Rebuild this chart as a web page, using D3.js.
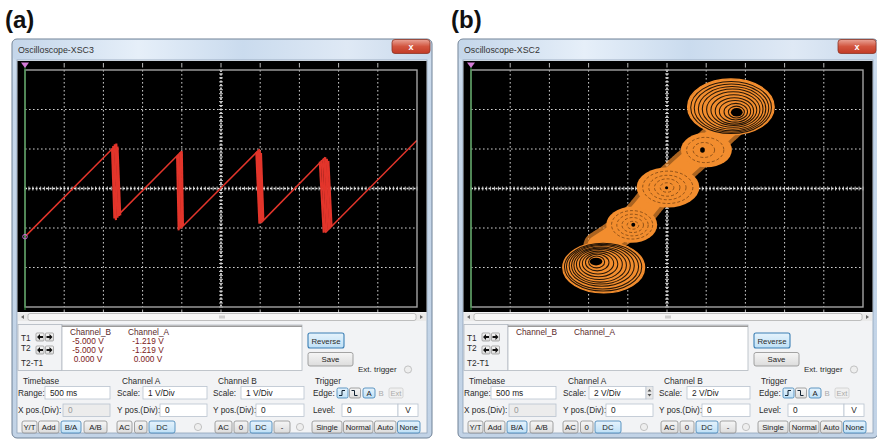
<!DOCTYPE html>
<html><head><meta charset="utf-8">
<script src="https://cdn.jsdelivr.net/npm/d3@7"></script>
<style>
body{margin:0;background:#fff}
svg{display:block}
text{font-family:"Liberation Sans",Arial,sans-serif}
</style>
</head><body>
<svg id="fig" width="877" height="443"></svg>
<script>
// ---------- figure content ----------
const panelLabels = ["(a)", "(b)"];
const windowTitles = ["Oscilloscope-XSC3", "Oscilloscope-XSC2"];
const panelOffsets = [0, 446];
const voltsPerDiv = [1, 2];               // Channel scale of each scope
const divisionsX = [-5, -4, -3, -2, -1, 0, 1, 2, 3, 4, 5];
const divisionsY = [-3, -2, -1, 0, 1, 2, 3];

// readout
const readoutHeaders = ["Channel_B", "Channel_A"];
const readoutRows = [
  [["-5.000 V", "-1.219 V"], ["-5.000 V", "-1.219 V"], ["0.000 V", "0.000 V"]],
  []
];
const cursorLabels = ["T1", "T2", "T2-T1"];
const timebaseRange = ["500 ms", "500 ms"];
const channelAScale = ["1 V/Div", "2 V/Div"];
const channelBScale = ["1 V/Div", "2 V/Div"];
const xPosDiv = ["0", "0"];
const yPosA = ["0", "0"];
const yPosB = ["0", "0"];
const triggerLevel = ["0", "0"];
const displayModes = ["Y/T", "Add", "B/A", "A/B"];
const couplingA = ["AC", "0", "DC"];
const couplingB = ["AC", "0", "DC", "-"];
const triggerModes = ["Single", "Normal", "Auto", "None"];

// (a) sawtooth trace, volts: [x0, y0, x1, y1]
const rampsA = [
  [-5.00, -1.219, -2.67, 1.11],
  [-2.70, -0.75, -1.00, 0.95],
  [-1.02, -1.00, 0.99, 1.00],
  [1.02, -0.87, 2.66, 0.79],
  [2.66, -1.12, 5.00, 1.22]
];
// (a) flyback traces, volts: [xTop, yTop, xBottom, yBottom]
const flybackA = [
  [-2.78, 1.02, -2.72, -0.76], [-2.75, 1.08, -2.68, -0.80], [-2.71, 1.12, -2.64, -0.74],
  [-2.67, 1.14, -2.60, -0.70], [-2.64, 1.06, -2.57, -0.68],
  [-1.12, 0.83, -1.08, -1.06], [-1.08, 0.87, -1.04, -1.02], [-1.04, 0.91, -1.00, -0.98],
  [-1.00, 0.94, -0.97, -0.95],
  [0.90, 0.92, 0.98, -0.89], [0.93, 0.95, 1.01, -0.86], [0.96, 0.98, 1.04, -0.83],
  [0.99, 0.96, 1.07, -0.80], [1.02, 0.90, 1.08, -0.78],
  [2.52, 0.68, 2.62, -1.12], [2.57, 0.72, 2.66, -1.10], [2.62, 0.76, 2.70, -1.07],
  [2.66, 0.79, 2.74, -1.04], [2.70, 0.75, 2.78, -1.00], [2.74, 0.70, 2.82, -0.96]
];
const cursorPointA = [-5.00, -1.219];

// (b) multi-scroll phase portrait, volts: loops [cx, cy, rx, ry], innermost first
const outerScrollLow = [
  [-3.59, -3.72, 0.41, 0.30], [-3.56, -3.75, 0.60, 0.42], [-3.52, -3.79, 0.80, 0.54],
  [-3.49, -3.82, 0.98, 0.65], [-3.45, -3.85, 1.17, 0.76], [-3.41, -3.88, 1.34, 0.86],
  [-3.37, -3.90, 1.50, 0.94], [-3.33, -3.92, 1.66, 1.03], [-3.29, -3.96, 1.84, 1.13],
  [-3.26, -3.98, 1.97, 1.21], [-3.23, -4.00, 2.09, 1.29]
];
const outerScrollHigh = [
  [3.54, 3.87, 0.41, 0.30], [3.51, 3.89, 0.60, 0.42], [3.47, 3.91, 0.80, 0.55],
  [3.44, 3.93, 0.98, 0.67], [3.41, 3.97, 1.17, 0.78], [3.38, 4.00, 1.36, 0.90],
  [3.35, 4.02, 1.55, 1.02], [3.32, 4.04, 1.72, 1.12], [3.29, 4.07, 1.90, 1.22],
  [3.27, 4.10, 2.06, 1.32], [3.26, 4.13, 2.21, 1.42]
];
const innerScrolls = [
  [-1.80, -1.84, 1.30, 0.91],
  [0.05, 0.06, 1.60, 1.02],
  [2.01, 1.95, 1.30, 0.88]
];
const innerScrollRings = [
  [-1.74, -1.86, 0.30, 0.20], [-1.75, -1.85, 0.55, 0.38], [-1.76, -1.85, 0.80, 0.55], [-1.78, -1.84, 1.05, 0.72],
  [0.00, 0.05, 0.35, 0.24], [0.01, 0.05, 0.65, 0.44], [0.02, 0.05, 0.95, 0.62], [0.04, 0.06, 1.28, 0.82],
  [1.88, 1.95, 0.55, 0.38], [1.95, 1.95, 0.95, 0.64]
];
const scrollHoles = [
  [-3.62, -3.70, 0.32, 0.20], [3.56, 3.86, 0.30, 0.22],
  [1.81, 1.95, 0.12, 0.14], [-1.72, -1.84, 0.10, 0.10], [-0.02, 0.04, 0.08, 0.08]
];
const scrollSpine = [[-3.50, -2.92], [-1.81, -1.72], [-0.18, 0.13], [1.81, 1.95], [3.40, 3.40]];

// ---------- drawing ----------
const svg = d3.select("#fig");
const defs = svg.append("defs");

function grad(id, stops, vertical = true) {
  const g = defs.append("linearGradient").attr("id", id)
    .attr("x1", 0).attr("y1", 0).attr("x2", vertical ? 0 : 1).attr("y2", vertical ? 1 : 0);
  stops.forEach(([o, c]) => g.append("stop").attr("offset", o).attr("stop-color", c));
}
grad("frame", [[0, "#d3e1f0"], [0.15, "#c6d7ea"], [1, "#c2d3e6"]]);
grad("titlebar", [[0, "#c4d6ea"], [0.3, "#e6eff9"], [0.55, "#cadbee"], [0.8, "#dfe9f5"], [1, "#c9d9ec"]], false);
grad("close", [[0, "#eaa497"], [0.5, "#d2553f"], [1, "#c23a26"]]);
grad("btn", [[0, "#f6f6f6"], [1, "#dcdcdc"]]);
grad("btnOn", [[0, "#e6f3fc"], [1, "#bfe0f6"]]);

const SMALL = 8.3;

function label(g, x, y, t, opts = {}) {
  return g.append("text").attr("x", x).attr("y", y).text(t)
    .attr("font-size", opts.size || SMALL)
    .attr("fill", opts.fill || "#2b2b2b")
    .attr("text-anchor", opts.anchor || "start")
    .attr("font-weight", opts.weight || null);
}
function button(g, x0, x1, y0, y1, t, on) {
  g.append("rect").attr("x", x0).attr("y", y0).attr("width", x1 - x0).attr("height", y1 - y0)
    .attr("rx", 2).attr("fill", on ? "url(#btnOn)" : "url(#btn)")
    .attr("stroke", on ? "#3b7fb4" : "#8e8e8e").attr("stroke-width", 0.8);
  if (t !== null) label(g, (x0 + x1) / 2, (y0 + y1) / 2 + 3, t, {anchor: "middle", size: 7.8, fill: "#222"});
}
function input(g, x0, x1, y0, y1, t, disabled) {
  g.append("rect").attr("x", x0).attr("y", y0).attr("width", x1 - x0).attr("height", y1 - y0)
    .attr("fill", disabled ? "#ececec" : "#fff").attr("stroke", "#b9c3cf").attr("stroke-width", 0.8);
  label(g, x0 + 5, (y0 + y1) / 2 + 3, t, {fill: disabled ? "#999" : "#222"});
}
function radio(g, cx, cy) {
  g.append("circle").attr("cx", cx).attr("cy", cy).attr("r", 3.6)
    .attr("fill", "#eee").attr("stroke", "#b5b5b5").attr("stroke-width", 0.8);
}
function arrowBtn(g, x0, y0, dir) {
  g.append("rect").attr("x", x0).attr("y", y0).attr("width", 8).attr("height", 8)
    .attr("rx", 1).attr("fill", "url(#btn)").attr("stroke", "#8e8e8e").attr("stroke-width", 0.7);
  const cx = x0 + 4, cy = y0 + 4;
  const p = dir < 0
    ? `M${cx - 3},${cy} L${cx},${cy - 3} L${cx},${cy - 1} L${cx + 3},${cy - 1} L${cx + 3},${cy + 1} L${cx},${cy + 1} L${cx},${cy + 3} Z`
    : `M${cx + 3},${cy} L${cx},${cy - 3} L${cx},${cy - 1} L${cx - 3},${cy - 1} L${cx - 3},${cy + 1} L${cx},${cy + 1} L${cx},${cy + 3} Z`;
  g.append("path").attr("d", p).attr("fill", "#111");
}

function drawWindow(i) {
  const g = svg.append("g").attr("transform", `translate(${panelOffsets[i]},0)`);
  const vpd = voltsPerDiv[i];

  // panel letter
  label(g, 5, 28, panelLabels[i], {size: 24, weight: "bold", fill: "#111"});

  // window frame
  g.append("rect").attr("x", 12).attr("y", 39).attr("width", 420).attr("height", 399).attr("rx", 5)
    .attr("fill", "url(#frame)").attr("stroke", "#6f8196").attr("stroke-width", 1);
  g.append("rect").attr("x", 13).attr("y", 40).attr("width", 418).attr("height", 20).attr("rx", 4)
    .attr("fill", "url(#titlebar)");
  label(g, 18, 53, windowTitles[i], {size: 8.8, fill: "#333"});
  // close button
  g.append("rect").attr("x", 392).attr("y", 39.5).attr("width", 38).attr("height", 14).attr("rx", 3)
    .attr("fill", "url(#close)").attr("stroke", "#8c3325").attr("stroke-width", 0.8);
  label(g, 411, 50, "x", {anchor: "middle", size: 9, weight: "bold", fill: "#fff"});

  // client area
  g.append("rect").attr("x", 17).attr("y", 60).attr("width", 410).attr("height", 373)
    .attr("fill", "#f2f3f5").attr("stroke", "#8fa2b8").attr("stroke-width", 0.8);
  // screen
  g.append("rect").attr("x", 17.5).attr("y", 61).attr("width", 409).attr("height", 251).attr("fill", "#000");

  const x = d3.scaleLinear().domain([-5 * vpd, 5 * vpd]).range([25, 417]);
  const y = d3.scaleLinear().domain([-3 * vpd, 3 * vpd]).range([307, 70]);

  const grid = g.append("g");
  // outer tick marks above and below the graticule
  divisionsX.slice(1, -1).forEach(d => {
    [[63, 67.5], [309.5, 312]].forEach(([a, b]) =>
      grid.append("line").attr("x1", x(d * vpd)).attr("x2", x(d * vpd)).attr("y1", a).attr("y2", b)
        .attr("stroke", "#bdbdbd").attr("stroke-width", 1));
  });
  divisionsX.slice(1, -1).filter(d => d !== 0).forEach(d =>
    grid.append("line").attr("x1", x(d * vpd)).attr("x2", x(d * vpd)).attr("y1", 70).attr("y2", 307)
      .attr("stroke", "#cfcfcf").attr("stroke-width", 1).attr("stroke-dasharray", "1.6,2.4"));
  divisionsY.slice(1, -1).filter(d => d !== 0).forEach(d =>
    grid.append("line").attr("y1", y(d * vpd)).attr("y2", y(d * vpd)).attr("x1", 25).attr("x2", 417)
      .attr("stroke", "#cfcfcf").attr("stroke-width", 1).attr("stroke-dasharray", "1.6,2.4"));
  // centre axes with fine sub-division ticks
  grid.append("line").attr("x1", x(0)).attr("x2", x(0)).attr("y1", 70).attr("y2", 307)
    .attr("stroke", "#e8e8e8").attr("stroke-width", 1.6).attr("stroke-dasharray", "2,1.5");
  grid.append("line").attr("y1", y(0)).attr("y2", y(0)).attr("x1", 25).attr("x2", 417)
    .attr("stroke", "#e8e8e8").attr("stroke-width", 1.6).attr("stroke-dasharray", "2,1.5");
  const subX = d3.range(-50, 51).map(k => k / 10 * vpd);
  const subY = d3.range(-30, 31).map(k => k / 10 * vpd);
  grid.selectAll(".sx").data(subX).join("line")
    .attr("x1", d => x(d)).attr("x2", d => x(d)).attr("y1", y(0) - 2).attr("y2", y(0) + 2)
    .attr("stroke", "#d8d8d8").attr("stroke-width", 0.9);
  grid.selectAll(".sy").data(subY).join("line")
    .attr("y1", d => y(d)).attr("y2", d => y(d)).attr("x1", x(0) - 2).attr("x2", x(0) + 2)
    .attr("stroke", "#d8d8d8").attr("stroke-width", 0.9);

  // trace layer
  const clipId = "clip" + i;
  defs.append("clipPath").attr("id", clipId).append("rect")
    .attr("x", 25).attr("y", 70).attr("width", 392).attr("height", 237);
  const tr = g.append("g").attr("clip-path", `url(#${clipId})`);

  if (i === 0) {
    const red = "#e3352b";
    tr.selectAll(".fly").data(flybackA).join("line")
      .attr("x1", d => x(d[0])).attr("y1", d => y(d[1])).attr("x2", d => x(d[2])).attr("y2", d => y(d[3]))
      .attr("stroke", red).attr("stroke-width", 2.1);
    tr.selectAll(".ramp").data(rampsA).join("line")
      .attr("x1", d => x(d[0])).attr("y1", d => y(d[1])).attr("x2", d => x(d[2])).attr("y2", d => y(d[3]))
      .attr("stroke", red).attr("stroke-width", 1.5);
  } else {
    const orange = "#f28d2e";
    const line = d3.line().x(d => x(d[0])).y(d => y(d[1])).curve(d3.curveCatmullRom);
    // connecting band between scrolls, with a speckled edge
    tr.append("path").attr("d", line(scrollSpine)).attr("fill", "none")
      .attr("stroke", orange).attr("stroke-width", 30).attr("stroke-dasharray", "1,2.2")
      .attr("stroke-linecap", "round").attr("opacity", 0.7);
    tr.append("path").attr("d", line(scrollSpine)).attr("fill", "none")
      .attr("stroke", orange).attr("stroke-width", 22).attr("stroke-linecap", "round");
    const ell = (sel, data, cls) => sel.selectAll("." + cls).data(data).join("ellipse").attr("class", cls)
      .attr("cx", d => x(d[0])).attr("cy", d => y(d[1]))
      .attr("rx", d => x(d[2]) - x(0)).attr("ry", d => y(0) - y(d[3]));
    ell(tr, innerScrolls, "blob").attr("fill", orange);
    ell(tr, innerScrollRings, "iring").attr("fill", "none").attr("stroke", "#2a1200")
      .attr("stroke-width", 0.8).attr("stroke-dasharray", "3,2").attr("opacity", 0.6);
    [outerScrollLow, outerScrollHigh].forEach((loops, k) => {
      // the outermost loop bounds a filled scroll, inner loops show as dark gaps
      ell(tr, loops.slice(-1), "sfill" + k).attr("fill", orange).attr("stroke", orange).attr("stroke-width", 1.2);
      ell(tr, loops.slice(0, -1), "sgap" + k).attr("fill", "none").attr("stroke", "#000")
        .attr("stroke-width", 1.05).attr("opacity", 0.85);
    });
    ell(tr, scrollHoles, "hole").attr("fill", "#000");
  }

  // graticule border
  g.append("rect").attr("x", 25).attr("y", 70).attr("width", 392).attr("height", 237)
    .attr("fill", "none").attr("stroke", "#a3a3a3").attr("stroke-width", 1.4);

  // cursor T1 (green) with its marker
  g.append("line").attr("x1", x(-5 * vpd)).attr("x2", x(-5 * vpd)).attr("y1", 64).attr("y2", 310)
    .attr("stroke", "#2f9a3a").attr("stroke-width", 1);
  g.append("path").attr("d", `M${x(-5 * vpd) - 4},62.5 L${x(-5 * vpd) + 4},62.5 L${x(-5 * vpd)},68 Z`)
    .attr("fill", "#d47ad6");
  if (i === 0) {
    g.append("circle").attr("cx", x(cursorPointA[0])).attr("cy", y(cursorPointA[1])).attr("r", 2.3)
      .attr("fill", "none").attr("stroke", "#c36ad0").attr("stroke-width", 1);
  }

  // horizontal scrollbar
  g.append("rect").attr("x", 18).attr("y", 313).attr("width", 408).attr("height", 8).attr("fill", "#eaeaea");
  g.append("rect").attr("x", 28).attr("y", 313.5).attr("width", 388).attr("height", 7).attr("rx", 2)
    .attr("fill", "#f7f7f7").attr("stroke", "#a8a8a8").attr("stroke-width", 0.7);
  [-2, 0, 2].forEach(o => g.append("line").attr("x1", 222 + o).attr("x2", 222 + o).attr("y1", 315.5).attr("y2", 318.5)
    .attr("stroke", "#888").attr("stroke-width", 0.7));
  g.append("path").attr("d", "M21,317 L24,315 L24,319 Z").attr("fill", "#666");
  g.append("path").attr("d", "M423,317 L420,315 L420,319 Z").attr("fill", "#666");

  // cursor box
  g.append("rect").attr("x", 18).attr("y", 324.5).attr("width", 44).attr("height", 46)
    .attr("fill", "#f2f3f5").attr("stroke", "#aeb6c0").attr("stroke-width", 0.8);
  label(g, 21, 341, cursorLabels[0]);
  label(g, 21, 351, cursorLabels[1]);
  label(g, 21, 366, cursorLabels[2]);
  arrowBtn(g, 36, 333, -1); arrowBtn(g, 45.5, 333, 1);
  arrowBtn(g, 36, 346, -1); arrowBtn(g, 45.5, 346, 1);

  // readout box
  g.append("rect").attr("x", 62).attr("y", 325).attr("width", 240).attr("height", 45.5)
    .attr("fill", "#fff").attr("stroke", "#b2b8c0").attr("stroke-width", 0.8);
  g.append("line").attr("x1", 62).attr("x2", 302).attr("y1", 326.2).attr("y2", 326.2)
    .attr("stroke", "#9a9a9a").attr("stroke-width", 1.4);
  label(g, 70, 334.5, readoutHeaders[0], {fill: "#5a2a2a"});
  label(g, 128, 334.5, readoutHeaders[1], {fill: "#5a2a2a"});
  readoutRows[i].forEach((row, r) => {
    const yy = 343.5 + r * 9.3;
    label(g, 88, yy, row[0], {anchor: "middle", fill: "#7b2020"});
    label(g, 148, yy, row[1], {anchor: "middle", fill: "#7b2020"});
  });

  // reverse / save
  g.append("rect").attr("x", 308).attr("y", 333).attr("width", 36).attr("height", 15).attr("rx", 2)
    .attr("fill", "url(#btnOn)").attr("stroke", "#3b7fb4").attr("stroke-width", 1.1);
  label(g, 326, 343.5, "Reverse", {anchor: "middle", size: 7.8});
  button(g, 308, 353, 352.5, 366, "Save", false);
  label(g, 358, 372, "Ext. trigger", {size: 8});
  radio(g, 408, 369.5);

  // section headers
  label(g, 23, 384, "Timebase");
  label(g, 122, 384, "Channel A");
  label(g, 218, 384, "Channel B");
  label(g, 315, 384, "Trigger");

  // row 1
  label(g, 18, 395.5, "Range:");
  input(g, 45, 110, 386.5, 399, timebaseRange[i], false);
  label(g, 117, 395.5, "Scale:");
  input(g, 143, i === 1 ? 200 : 207, 386.5, 399, channelAScale[i], false);
  if (i === 1) {
    g.append("rect").attr("x", 200).attr("y", 386.5).attr("width", 7).attr("height", 12.5)
      .attr("fill", "#e8e8e8").attr("stroke", "#b9c3cf").attr("stroke-width", 0.7);
    g.append("path").attr("d", "M201.5,391.5 L203.5,389 L205.5,391.5 Z M201.5,394 L203.5,396.5 L205.5,394 Z").attr("fill", "#555");
  }
  label(g, 213, 395.5, "Scale:");
  input(g, 241, 304, 386.5, 399, channelBScale[i], false);
  label(g, 313, 395.5, "Edge:");
  // edge buttons
  g.append("rect").attr("x", 337).attr("y", 388).attr("width", 11).attr("height", 10).attr("rx", 1.5)
    .attr("fill", "url(#btnOn)").attr("stroke", "#3b7fb4").attr("stroke-width", 0.8);
  g.append("path").attr("d", "M339,395.5 h3 v-5 h3").attr("fill", "none").attr("stroke", "#123").attr("stroke-width", 1);
  g.append("rect").attr("x", 349.5).attr("y", 388).attr("width", 11).attr("height", 10).attr("rx", 1.5)
    .attr("fill", "url(#btn)").attr("stroke", "#8e8e8e").attr("stroke-width", 0.8);
  g.append("path").attr("d", "M351.5,390.5 h3 v5 h3").attr("fill", "none").attr("stroke", "#123").attr("stroke-width", 1);
  button(g, 363, 375, 388, 398, "A", true);
  label(g, 381, 396, "B", {anchor: "middle", size: 7.8, fill: "#aaa"});
  g.append("rect").attr("x", 389).attr("y", 388).attr("width", 14).attr("height", 10).attr("rx", 1.5)
    .attr("fill", "#f0f0f0").attr("stroke", "#c8c8c8").attr("stroke-width", 0.7);
  label(g, 396, 396, "Ext", {anchor: "middle", size: 7.5, fill: "#aaa"});

  // row 2
  label(g, 18, 413, "X pos.(Div):");
  input(g, 63, 110, 404, 416.5, xPosDiv[i], true);
  label(g, 117, 413, "Y pos.(Div):");
  input(g, 160, 207, 404, 416.5, yPosA[i], false);
  label(g, 213, 413, "Y pos.(Div):");
  input(g, 256, 304, 404, 416.5, yPosB[i], false);
  label(g, 313, 413, "Level:");
  input(g, 342, 398, 404, 416.5, triggerLevel[i], false);
  g.append("rect").attr("x", 398).attr("y", 404).attr("width", 20).attr("height", 12.5)
    .attr("fill", "#fff").attr("stroke", "#b9c3cf").attr("stroke-width", 0.8);
  label(g, 408, 413, "V", {anchor: "middle"});

  // row 3
  const modeX = [[22, 37], [38.5, 59], [61, 81], [84, 107]];
  displayModes.forEach((m, k) => button(g, modeX[k][0], modeX[k][1], 421, 433, m, m === "B/A"));
  const cAX = [[117, 132], [134.5, 147], [149, 175]];
  couplingA.forEach((m, k) => button(g, cAX[k][0], cAX[k][1], 421, 433, m, m === "DC"));
  radio(g, 198, 427);
  const cBX = [[215, 232], [234, 248], [250, 272], [274, 290]];
  couplingB.forEach((m, k) => button(g, cBX[k][0], cBX[k][1], 421, 433, m, m === "DC"));
  radio(g, 300, 427);
  const tX = [[312, 342], [343.5, 373], [374.5, 396], [397.5, 420]];
  triggerModes.forEach((m, k) => button(g, tX[k][0], tX[k][1], 421, 433, m, m === "None"));
}

drawWindow(0);
drawWindow(1);
</script>
</body></html>
